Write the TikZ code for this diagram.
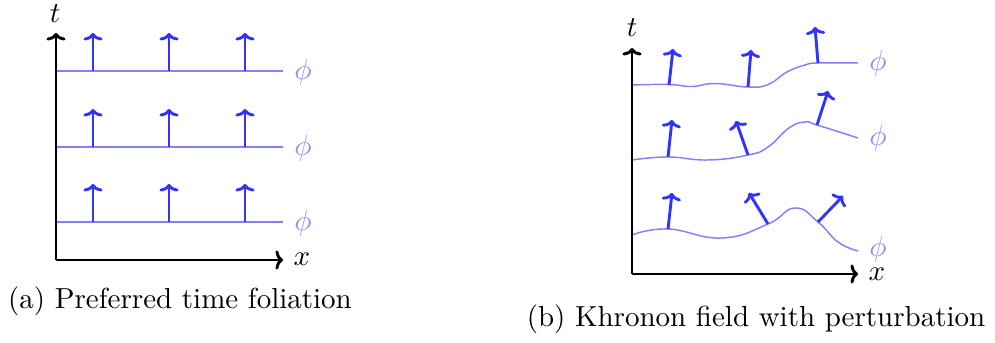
\documentclass[tikz,border=0pt]{standalone}
\usetikzlibrary{arrows.meta}
\begin{document}
\begin{tikzpicture}[x=0.345pt,y=-0.345pt,
  >={Computer Modern Rightarrow[length=2.6pt,width=6.6pt]},
  axis/.style={line width=1pt,->},
  leaf/.style={draw=blue!50,line width=0.5pt},
  khr/.style={draw=blue!80,line width=1pt,->},
  lbl/.style={inner sep=0pt},
  philbl/.style={text=blue!45,inner sep=0pt}]
\useasboundingbox (0,0) rectangle (995,343);
% ---------- left panel ----------
\coordinate (aO) at (56,260);
\coordinate (aT) at (56,33);
\coordinate (aX) at (283,260);
\foreach \i/\y in {1/71,2/147,3/222}{
  \coordinate (aL\i) at (56,\y);
  \coordinate (aR\i) at (283,\y);
  \draw[leaf] (aL\i) -- (aR\i);
  \node[philbl] (aphi\i) at (303,\y+1) {$\phi$};
  \foreach \j/\x in {1/93,2/169,3/245}{
    \coordinate (ab\i\j) at (\x,\y);
    \coordinate (ah\i\j) at (\x,\y-38);
    \draw[khr] (ab\i\j) -- (ah\i\j);
  }
}
\draw[axis] (aO) -- (aT);
\draw[axis] (aO) -- (aX);
\node[lbl] (at) at (55,14) {$t$};
\node[lbl] (ax) at (302,259) {$x$};
\node[anchor=base] (capa) at (180,309) {(a) Preferred time foliation};
% ---------- right panel ----------
\coordinate (bO) at (632,274);
\coordinate (bT) at (632,48);
\coordinate (bX) at (858,274);
\draw[leaf] plot[smooth,tension=0.8] coordinates {(632,85) (669,84.5) (692,86.5) (715,83.5) (748,87) (768,84.5) (787,72) (805,65) (818,63) (858,63)};
\draw[leaf] plot[smooth,tension=0.8] coordinates {(632,160) (668,157) (708,160) (748,155) (768,147) (789,128) (805,122) (817,125) (858,138)};
\draw[leaf] plot[smooth,tension=0.8] coordinates {(632,235) (668,229) (722,238) (768,224) (795,208) (818,222) (838,242) (858,251)};
\coordinate (b11) at (669,85);  \coordinate (c11) at (673,49);
\coordinate (b12) at (748,87);  \coordinate (c12) at (751,50);
\coordinate (b13) at (818,63);  \coordinate (c13) at (815,27);
\coordinate (b21) at (668,157); \coordinate (c21) at (672,120);
\coordinate (b22) at (748,155); \coordinate (c22) at (736,121);
\coordinate (b23) at (817,125); \coordinate (c23) at (828,91);
\coordinate (b31) at (668,229); \coordinate (c31) at (672,193);
\coordinate (b32) at (768,224); \coordinate (c32) at (749,193);
\coordinate (b33) at (818,222); \coordinate (c33) at (843,196);
\foreach \k in {11,12,13,21,22,23,31,32,33}{\draw[khr] (b\k) -- (c\k);}
\draw[axis] (bO) -- (bT);
\draw[axis] (bO) -- (bX);
\node[lbl] (bt) at (632,28) {$t$};
\node[lbl] (bx) at (877,274) {$x$};
\node[philbl] (bphi1) at (878,63) {$\phi$};
\node[philbl] (bphi2) at (878,138) {$\phi$};
\node[philbl] (bphi3) at (878,249) {$\phi$};
\node[anchor=base] (capb) at (756,327) {(b) Khronon field with perturbation};
\end{tikzpicture}
\end{document}
